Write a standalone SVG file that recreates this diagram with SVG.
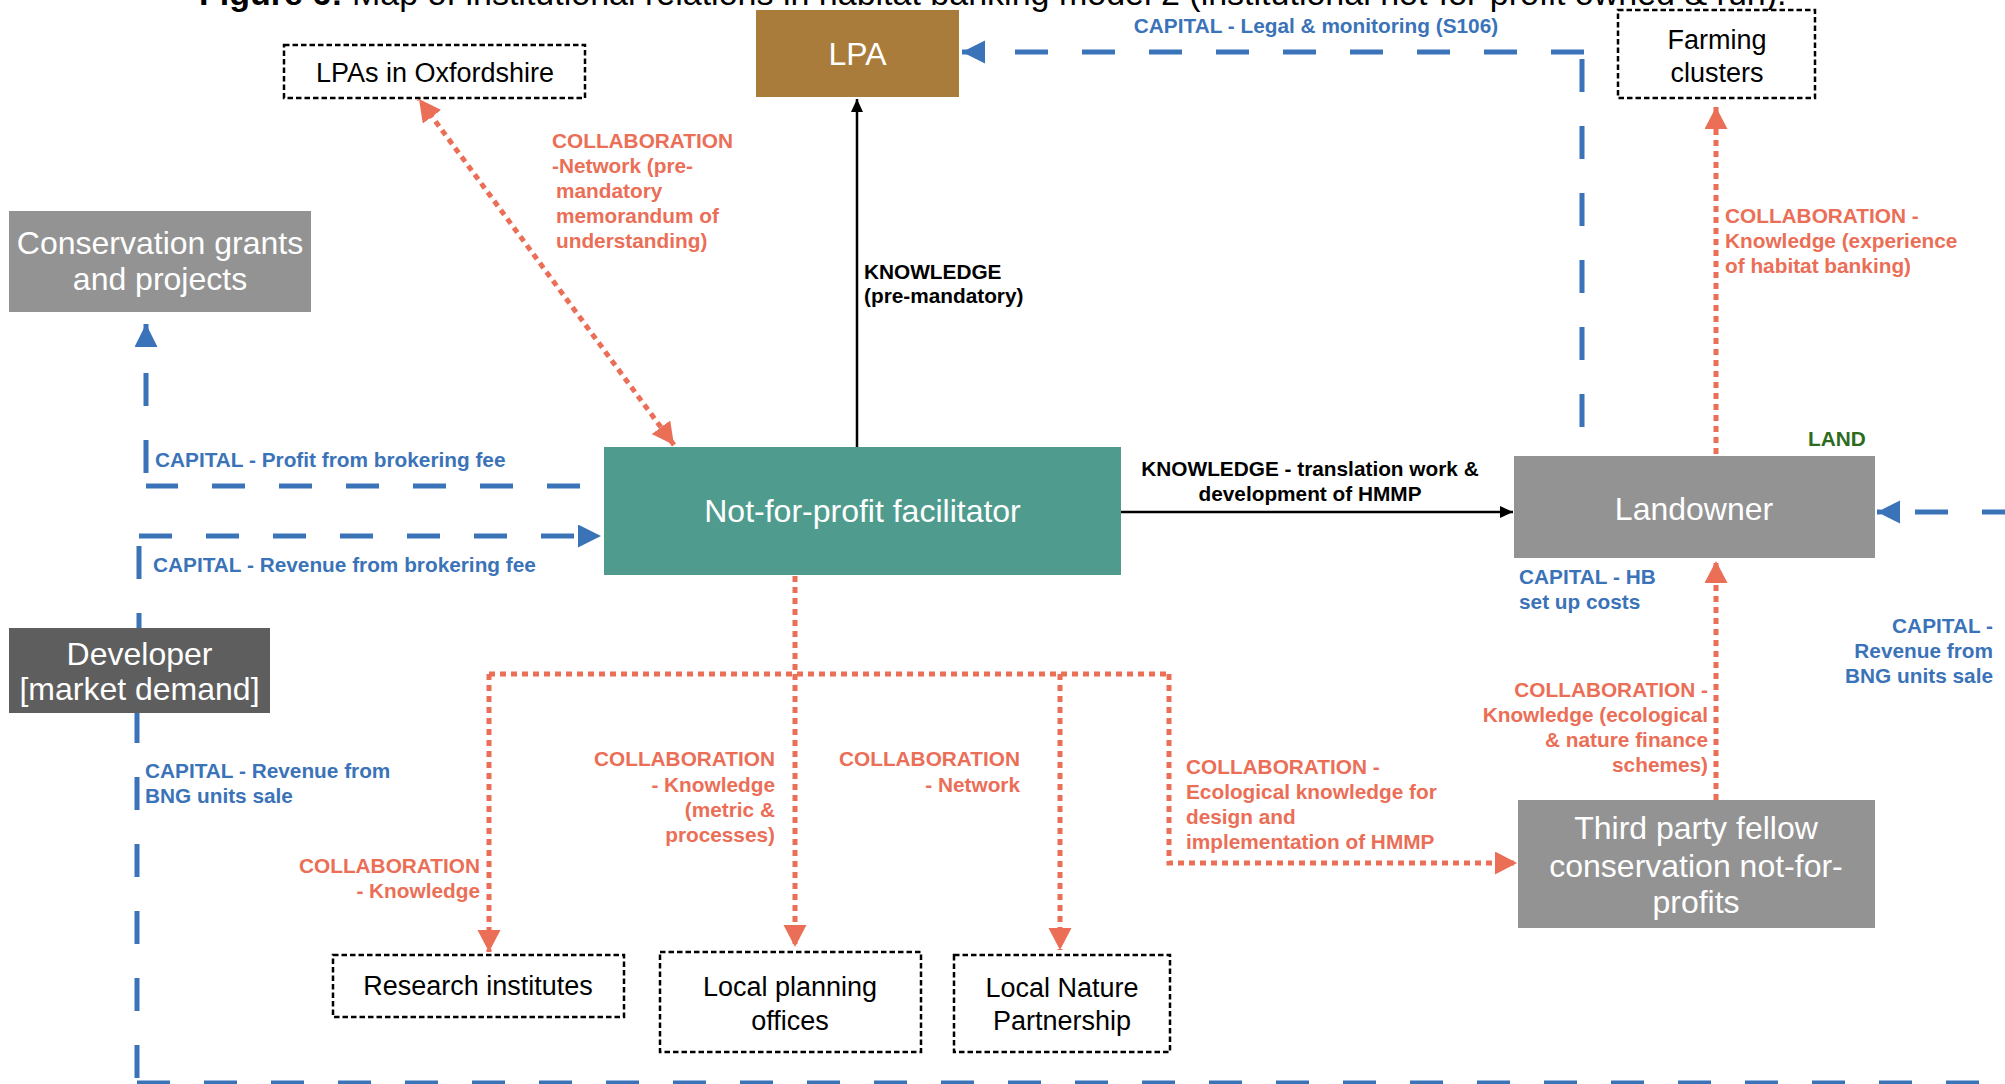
<svg xmlns="http://www.w3.org/2000/svg" width="2005" height="1084" viewBox="0 0 2005 1084">
  <style>
    .title { font-family: "Liberation Sans", Arial, sans-serif; font-size: 34px; fill: #000; }
    .node-txt { font-family: "Liberation Sans", Arial, sans-serif; font-size: 32px; fill: #fff; text-anchor: middle; }
    .box-txt { font-family: "Liberation Sans", Arial, sans-serif; font-size: 27px; fill: #000; text-anchor: middle; }
    .lbl { font-family: "Liberation Sans", Arial, sans-serif; font-size: 20.8px; font-weight: bold; }
    .cap { fill: #3B73B9; }
    .col { fill: #EB6E57; }
    .kn { fill: #000; }
    .land { fill: #2E6B1F; }
    .end { text-anchor: end; }
    .mid { text-anchor: middle; }
    .dotbox { fill: #fff; stroke: #000; stroke-width: 2.5; stroke-dasharray: 5.5 3; }
    .capital { fill: none; stroke: #3B73B9; stroke-width: 5; stroke-dasharray: 33 34; }
    .collab { fill: none; stroke: #EB6E57; stroke-width: 5; stroke-dasharray: 6 5; }
    .knowledge { fill: none; stroke: #000; stroke-width: 2.5; }
  </style>
  <defs>
    <marker id="arrow-blue" markerUnits="userSpaceOnUse" markerWidth="24" markerHeight="24" refX="23" refY="11.5" orient="auto">
      <path d="M0,0 L23,11.5 L0,23 z" fill="#3B73B9"/>
    </marker>
    <marker id="arrow-red" markerUnits="userSpaceOnUse" markerWidth="24" markerHeight="24" refX="22" refY="11.5" orient="auto-start-reverse">
      <path d="M0,0 L22,11.5 L0,23 z" fill="#EB6E57"/>
    </marker>
    <marker id="arrow-black" markerUnits="userSpaceOnUse" markerWidth="14" markerHeight="14" refX="13" refY="6" orient="auto">
      <path d="M0,0 L13,6 L0,12 z" fill="#000"/>
    </marker>
  </defs>

  <rect width="2005" height="1084" fill="#fff"/>

  <!-- figure caption (runs off the top edge) -->
  <text class="title" x="199" y="4.5"><tspan font-weight="bold">Figure 6:</tspan> Map of institutional relations in habitat banking model 2 (institutional not-for-profit owned &amp; run).</text>

  <!-- connectors; each leg is its own subpath so the dash pattern restarts at corners -->
  <g id="connectors">
    <!-- capital flows -->
    <path class="capital" d="M1582,427 V52 M1584,52 H962" marker-end="url(#arrow-blue)"/>
    <path class="capital" d="M580,486 H146 M146,473 V324" marker-end="url(#arrow-blue)"/>
    <path class="capital" d="M139,646 V536 M139,536 H601" marker-end="url(#arrow-blue)"/>
    <path class="capital" d="M137,710 V1083 M137,1083 H2080 V512 M2082,512 H1877" marker-end="url(#arrow-blue)"/>

    <!-- knowledge flows -->
    <path class="knowledge" d="M857,447 V99" marker-end="url(#arrow-black)"/>
    <path class="knowledge" d="M1121,512 H1513" marker-end="url(#arrow-black)"/>

    <!-- collaboration links -->
    <path class="collab" d="M674,445 L419,99" marker-start="url(#arrow-red)" marker-end="url(#arrow-red)"/>
    <path class="collab" d="M1716,454 V107" marker-end="url(#arrow-red)"/>
    <path class="collab" d="M1716,800 V561" marker-end="url(#arrow-red)"/>
    <path class="collab" d="M795,576 V674"/>
    <path class="collab" d="M489,674 H1169"/>
    <path class="collab" d="M489,674 V952" marker-end="url(#arrow-red)"/>
    <path class="collab" d="M795,674 V947" marker-end="url(#arrow-red)"/>
    <path class="collab" d="M1060,674 V950" marker-end="url(#arrow-red)"/>
    <path class="collab" d="M1169,674 V863 H1517" marker-end="url(#arrow-red)"/>
  </g>

  <!-- connector labels -->
  <g id="labels">
    <text class="lbl cap mid" x="1316" y="33">CAPITAL - Legal &amp; monitoring (S106)</text>
    <text class="lbl cap" x="155" y="467">CAPITAL - Profit from brokering fee</text>
    <text class="lbl cap" x="153" y="572">CAPITAL - Revenue from brokering fee</text>
    <text class="lbl cap" x="145"><tspan x="145" y="778">CAPITAL - Revenue from</tspan><tspan x="145" y="803">BNG units sale</tspan></text>
    <text class="lbl cap end"><tspan x="1993" y="633">CAPITAL -</tspan><tspan x="1993" y="658">Revenue from</tspan><tspan x="1993" y="683">BNG units sale</tspan></text>
    <text class="lbl cap"><tspan x="1519" y="584">CAPITAL - HB</tspan><tspan x="1519" y="609">set up costs</tspan></text>
    <text class="lbl land" x="1808" y="446">LAND</text>

    <text class="lbl kn"><tspan x="864" y="279">KNOWLEDGE</tspan><tspan x="864" y="303">(pre-mandatory)</tspan></text>
    <text class="lbl kn mid"><tspan x="1310" y="476">KNOWLEDGE - translation work &amp;</tspan><tspan x="1310" y="501">development of HMMP</tspan></text>

    <text class="lbl col"><tspan x="552" y="148">COLLABORATION</tspan><tspan x="552" y="173">-Network (pre-</tspan><tspan x="556" y="198">mandatory</tspan><tspan x="556" y="223">memorandum of</tspan><tspan x="556" y="248">understanding)</tspan></text>
    <text class="lbl col"><tspan x="1725" y="223">COLLABORATION -</tspan><tspan x="1725" y="248">Knowledge (experience</tspan><tspan x="1725" y="273">of habitat banking)</tspan></text>
    <text class="lbl col end"><tspan x="1708" y="697">COLLABORATION -</tspan><tspan x="1708" y="722">Knowledge (ecological</tspan><tspan x="1708" y="747">&amp; nature finance</tspan><tspan x="1708" y="772">schemes)</tspan></text>
    <text class="lbl col"><tspan x="1186" y="774">COLLABORATION -</tspan><tspan x="1186" y="799">Ecological knowledge for</tspan><tspan x="1186" y="824">design and</tspan><tspan x="1186" y="849">implementation of HMMP</tspan></text>
    <text class="lbl col end"><tspan x="480" y="873">COLLABORATION</tspan><tspan x="480" y="898">- Knowledge</tspan></text>
    <text class="lbl col end"><tspan x="775" y="766">COLLABORATION</tspan><tspan x="775" y="792">- Knowledge</tspan><tspan x="775" y="817">(metric &amp;</tspan><tspan x="775" y="842">processes)</tspan></text>
    <text class="lbl col end"><tspan x="1020" y="766">COLLABORATION</tspan><tspan x="1020" y="792">- Network</tspan></text>
  </g>

  <!-- nodes -->
  <g id="lpas-oxfordshire">
    <rect class="dotbox" x="284" y="45" width="301" height="53"/>
    <text class="box-txt" x="435" y="82" font-size="26">LPAs in Oxfordshire</text>
  </g>
  <g id="lpa">
    <rect x="756" y="10" width="203" height="87" fill="#A97C3C"/>
    <text class="node-txt" x="857.5" y="65" font-size="30">LPA</text>
  </g>
  <g id="farming-clusters">
    <rect class="dotbox" x="1618" y="10" width="197" height="88"/>
    <text class="box-txt" font-size="26"><tspan x="1717" y="49">Farming</tspan><tspan x="1717" y="82">clusters</tspan></text>
  </g>
  <g id="conservation-grants">
    <rect x="9" y="211" width="302" height="101" fill="#939393"/>
    <text class="node-txt" font-size="31"><tspan x="160" y="254">Conservation grants</tspan><tspan x="160" y="290">and projects</tspan></text>
  </g>
  <g id="facilitator">
    <rect x="604" y="447" width="517" height="128" fill="#4F9C8E"/>
    <text class="node-txt" x="862.5" y="522">Not-for-profit facilitator</text>
  </g>
  <g id="landowner">
    <rect x="1514" y="456" width="361" height="102" fill="#939393"/>
    <text class="node-txt" x="1694" y="520">Landowner</text>
  </g>
  <g id="developer">
    <rect x="9" y="628" width="261" height="85" fill="#5E5E5E"/>
    <text class="node-txt"><tspan x="139.5" y="665">Developer</tspan><tspan x="139.5" y="700">[market demand]</tspan></text>
  </g>
  <g id="third-party">
    <rect x="1518" y="800" width="357" height="128" fill="#939393"/>
    <text class="node-txt"><tspan x="1696" y="839">Third party fellow</tspan><tspan x="1696" y="877">conservation not-for-</tspan><tspan x="1696" y="913">profits</tspan></text>
  </g>
  <g id="research-institutes">
    <rect class="dotbox" x="333" y="955" width="291" height="62"/>
    <text class="box-txt" x="478" y="995">Research institutes</text>
  </g>
  <g id="local-planning-offices">
    <rect class="dotbox" x="660" y="952" width="261" height="100"/>
    <text class="box-txt"><tspan x="790" y="996">Local planning</tspan><tspan x="790" y="1030">offices</tspan></text>
  </g>
  <g id="local-nature-partnership">
    <rect class="dotbox" x="954" y="955" width="216" height="97"/>
    <text class="box-txt"><tspan x="1062" y="997">Local Nature</tspan><tspan x="1062" y="1030">Partnership</tspan></text>
  </g>
</svg>
